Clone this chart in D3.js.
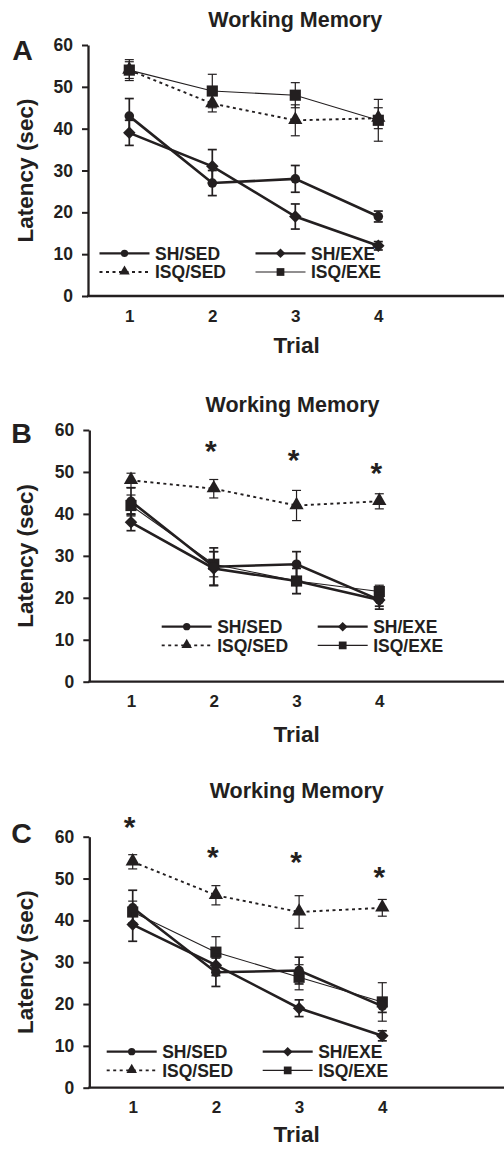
<!DOCTYPE html>
<html>
<head>
<meta charset="utf-8">
<script src="https://cdn.jsdelivr.net/npm/d3@7"></script>
<style>
  html, body { margin: 0; padding: 0; background: #fff; }
  svg { display: block; }
  text { font-family: "Liberation Sans", Arial, sans-serif; font-weight: bold; fill: #231f20; }
</style>
</head>
<body>
<svg id="chart" width="504" height="1149"></svg>
<script>
// ---------------- DATA ----------------
const trials = [1, 2, 3, 4];
const seriesNames = ["SH/SED", "SH/EXE", "ISQ/SED", "ISQ/EXE"];
const yTicks = [0, 10, 20, 30, 40, 50, 60];
const panelLetters = ["A", "B", "C"];
const chartTitle = "Working Memory";
const xTitle = "Trial";
const yTitle = "Latency (sec)";

// Panel A
const A_SH_SED = [43, 27, 28, 19];      const A_SH_SED_err = [4.2, 3, 3.2, 1.3];
const A_SH_EXE = [39, 31, 19, 12];      const A_SH_EXE_err = [3, 4, 3, 1];
const A_ISQ_SED = [54, 46, 42, 42.5];   const A_ISQ_SED_err = [2, 2, 3.7, 2.5];
const A_ISQ_EXE = [54, 49, 48, 42];     const A_ISQ_EXE_err = [2.5, 4, 3, 5];
const A_star_trials = [];               const A_star_values = [];

// Panel B
const B_SH_SED = [43, 27.4, 28, 19.5];  const B_SH_SED_err = [3.2, 4.5, 3, 1.5];
const B_SH_EXE = [38, 27, 24, 19.5];    const B_SH_EXE_err = [2, 4, 3, 2.2];
const B_ISQ_SED = [48, 46, 42, 43];     const B_ISQ_SED_err = [1.7, 2.2, 3.6, 1.8];
const B_ISQ_EXE = [42, 28, 24, 21.5];   const B_ISQ_EXE_err = [2.5, 3, 3, 1.5];
const B_star_trials = [2, 3, 4];        const B_star_values = [56.7, 54.5, 51.3];

// Panel C
const C_SH_SED = [43, 27.6, 28, 19.5];  const C_SH_SED_err = [4.2, 3.4, 3.2, 1.5];
const C_SH_EXE = [39, 29.3, 19, 12.4];  const C_SH_EXE_err = [4, 2.5, 2, 1.2];
const C_ISQ_SED = [54, 46, 42, 43];     const C_ISQ_SED_err = [1.7, 2.3, 3.9, 2];
const C_ISQ_EXE = [42, 32.4, 26.4, 20.5]; const C_ISQ_EXE_err = [2.6, 3.7, 3, 4.6];
const C_star_trials = [1, 2, 3, 4];     const C_star_values = [64, 56.8, 55.6, 52];

// ---------------- LAYOUT / STYLE ----------------
const ink = "#231f20";
const styles = {
  "SH/SED":  { width: 2.6, dash: null,    marker: "circle",   size: 72,  legSize: 42 },
  "SH/EXE":  { width: 2.6, dash: null,    marker: "diamond",  size: 78,  legSize: 46 },
  "ISQ/SED": { width: 1.9, dash: "3,3.5", marker: "triangle", size: 88,  legSize: 48 },
  "ISQ/EXE": { width: 1.1, dash: null,    marker: "square",   size: 125, legSize: 60 }
};
const drawOrder = ["ISQ/SED", "ISQ/EXE", "SH/EXE", "SH/SED"];

const panels = [
  { letter: panelLetters[0], left: 88, top: 45, bottom: 296, x1: 129.3, x4: 378.3,
    titleX: 295.3, titleY: 26.7, letterX: 12.2, letterY: 60, trialY: 353.3, legX: 99.5, legY: 253.3,
    means: [A_SH_SED, A_SH_EXE, A_ISQ_SED, A_ISQ_EXE], errs: [A_SH_SED_err, A_SH_EXE_err, A_ISQ_SED_err, A_ISQ_EXE_err],
    starT: A_star_trials, starV: A_star_values },
  { letter: panelLetters[1], left: 89.3, top: 430, bottom: 681.7, x1: 131, x4: 379.3,
    titleX: 292.5, titleY: 411.7, letterX: 11.2, letterY: 442.7, trialY: 742, legX: 161.7, legY: 626.7,
    means: [B_SH_SED, B_SH_EXE, B_ISQ_SED, B_ISQ_EXE], errs: [B_SH_SED_err, B_SH_EXE_err, B_ISQ_SED_err, B_ISQ_EXE_err],
    starT: B_star_trials, starV: B_star_values },
  { letter: panelLetters[2], left: 89.3, top: 836.7, bottom: 1087.7, x1: 132.7, x4: 382.3,
    titleX: 296.7, titleY: 798.3, letterX: 11.2, letterY: 842.7, trialY: 1141.7, legX: 106.7, legY: 1051.7,
    means: [C_SH_SED, C_SH_EXE, C_ISQ_SED, C_ISQ_EXE], errs: [C_SH_SED_err, C_SH_EXE_err, C_ISQ_SED_err, C_ISQ_EXE_err],
    starT: C_star_trials, starV: C_star_values }
];

const svg = d3.select("#chart");
const fontFam = '"Liberation Sans", Arial, sans-serif';

function symbolPath(kind, size) {
  if (kind === "circle") return d3.symbol(d3.symbolCircle, size)();
  if (kind === "square" || kind === "diamond") return d3.symbol(d3.symbolSquare, size)();
  if (kind === "triangle") return d3.symbol(d3.symbolTriangle, size)();
}
function drawMarker(g, kind, size, cx, cy) {
  const p = g.append("path").attr("d", symbolPath(kind, size)).attr("fill", ink);
  let t = `translate(${cx},${cy})`;
  if (kind === "diamond") t += " rotate(45)";
  if (kind === "triangle") t = `translate(${cx},${cy - 0.5})`;
  p.attr("transform", t);
}

panels.forEach(P => {
  const g = svg.append("g");
  const x = d3.scaleLinear().domain([1, 4]).range([P.x1, P.x4]);
  const y = d3.scaleLinear().domain([0, 60]).range([P.bottom, P.top]);

  // Y axis
  const yAx = g.append("g").attr("transform", `translate(${P.left},0)`)
    .call(d3.axisLeft(y).tickValues(yTicks).tickSize(6).tickSizeOuter(0).tickPadding(9));
  yAx.select(".domain").attr("stroke", ink).attr("stroke-width", 2.3);
  yAx.selectAll(".tick line").attr("stroke", ink).attr("stroke-width", 2);
  yAx.selectAll(".tick text").attr("font-size", 17.5).attr("fill", ink)
    .style("font-family", fontFam).style("font-weight", "bold");

  // X axis (line extends to right edge)
  const xAx = g.append("g").attr("transform", `translate(0,${P.bottom})`)
    .call(d3.axisBottom(x).tickValues(trials).tickSize(0).tickPadding(13.5).tickFormat(d3.format("d")));
  xAx.select(".domain").remove();
  xAx.selectAll(".tick text").attr("font-size", 17).attr("fill", ink)
    .style("font-family", fontFam).style("font-weight", "bold");
  g.append("line").attr("x1", P.left - 1).attr("x2", 504).attr("y1", P.bottom).attr("y2", P.bottom)
    .attr("stroke", ink).attr("stroke-width", 2.3);

  // Titles
  g.append("text").attr("x", P.titleX).attr("y", P.titleY).attr("text-anchor", "middle")
    .attr("font-size", 21.5).text(chartTitle);
  g.append("text").attr("x", 296.7).attr("y", P.trialY).attr("text-anchor", "middle")
    .attr("font-size", 22.5).text(xTitle);
  g.append("text").attr("transform", `translate(33,${(P.top + P.bottom) / 2}) rotate(-90)`)
    .attr("text-anchor", "middle").attr("font-size", 22.5).text(yTitle);
  g.append("text").attr("x", P.letterX).attr("y", P.letterY).attr("font-size", 28.5).text(P.letter);

  // Series
  const line = d3.line().x((d, i) => x(trials[i])).y(d => y(d));
  drawOrder.forEach(name => {
    const si = seriesNames.indexOf(name);
    const st = styles[name];
    const vals = P.means[si], errs = P.errs[si];
    const sg = g.append("g");
    vals.forEach((v, i) => {
      const cx = x(trials[i]);
      const lo = y(v - errs[i]), hi = y(v + errs[i]);
      const ew = name.startsWith("SH") ? 1.7 : 1.2;
      sg.append("line").attr("x1", cx).attr("x2", cx).attr("y1", lo).attr("y2", hi)
        .attr("stroke", ink).attr("stroke-width", ew);
      [lo, hi].forEach(yy => sg.append("line").attr("x1", cx - 4.5).attr("x2", cx + 4.5)
        .attr("y1", yy).attr("y2", yy).attr("stroke", ink).attr("stroke-width", ew));
    });
    sg.append("path").attr("d", line(vals)).attr("fill", "none").attr("stroke", ink)
      .attr("stroke-width", st.width).attr("stroke-dasharray", st.dash);
    vals.forEach((v, i) => drawMarker(sg, st.marker, st.size, x(trials[i]), y(v)));
  });

  // Asterisks
  P.starT.forEach((t, i) => {
    g.append("text").attr("x", x(t) - 3).attr("y", y(P.starV[i]) + 17)
      .attr("text-anchor", "middle").attr("font-size", 30).text("*");
  });

  // Legend
  const rowGap = 18.7, colGap = 156, lineLen = 50, textOff = 55.5;
  const legendPos = [[0, 0], [1, 0], [0, 1], [1, 1]];
  seriesNames.forEach((name, i) => {
    const st = styles[name];
    const lx = P.legX + legendPos[i][0] * colGap;
    const ly = P.legY + legendPos[i][1] * rowGap;
    g.append("line").attr("x1", lx).attr("x2", lx + lineLen).attr("y1", ly).attr("y2", ly)
      .attr("stroke", ink).attr("stroke-width", st.width > 2 ? 2.3 : st.width)
      .attr("stroke-dasharray", st.dash);
    drawMarker(g, st.marker, st.legSize, lx + lineLen / 2, ly);
    g.append("text").attr("x", lx + textOff).attr("y", ly + 6.2).attr("font-size", 17.5).text(name);
  });
});
</script>
</body>
</html>
